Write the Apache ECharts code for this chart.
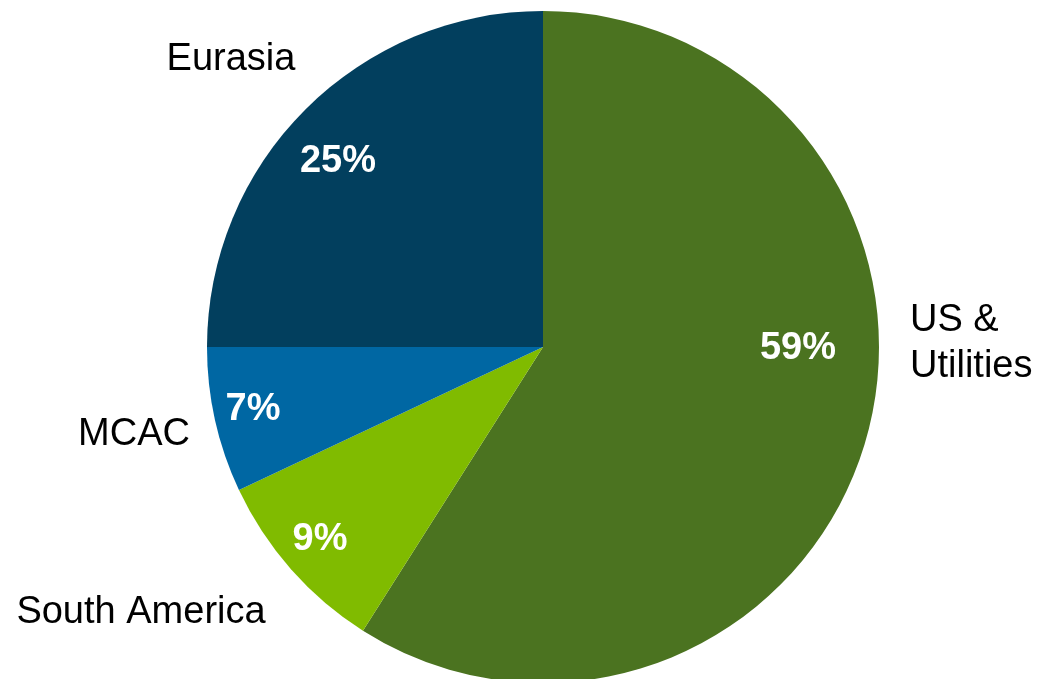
<!DOCTYPE html>
<html>
<head>
<meta charset="utf-8">
<title>Segment share</title>
<script src="https://cdn.jsdelivr.net/npm/echarts@6/dist/echarts.min.js"></script>
<style>
  html, body { margin: 0; padding: 0; background: #ffffff; }
  #chart { width: 1041px; height: 679px; }
</style>
</head>
<body>
<div id="chart"></div>
<script>
// Segment names and their share of the total (percent), clockwise from 12 o'clock
const segments = ['US &\nUtilities', 'South America', 'MCAC', 'Eurasia'];
const shares = [59, 9, 7, 25];
const colors = ['#4b7320', '#80bb00', '#0067a3', '#023f5e'];

// Where each percentage label and each segment name sits
const valueLabelPos = [[798, 349], [320, 540], [253, 410], [338, 162]];
const nameLabelPos = [[910, 344, 'left'], [141, 613, 'center'], [134, 435, 'center'], [231, 60, 'center']];

const center = [543, 347];
const radius = 336;
const font = '"Liberation Sans", Arial, Helvetica, sans-serif';

const pieData = segments.map((name, i) => ({
  name: name,
  value: shares[i],
  itemStyle: { color: colors[i] }
}));

const chart = echarts.init(document.getElementById('chart'), null, { renderer: 'canvas' });
chart.setOption({
  animation: false,
  backgroundColor: '#ffffff',
  series: [
    {
      // Slices with the percentage written on them
      type: 'pie',
      center: center,
      radius: radius,
      startAngle: 90,
      clockwise: true,
      silent: true,
      data: pieData,
      itemStyle: { borderWidth: 0 },
      label: {
        show: true,
        position: 'inside',
        formatter: p => p.value + '%',
        color: '#ffffff',
        fontFamily: font,
        fontWeight: 'bold',
        fontSize: 38,
        overflow: 'none'
      },
      labelLine: { show: false },
      labelLayout: p => ({
        x: valueLabelPos[p.dataIndex][0],
        y: valueLabelPos[p.dataIndex][1],
        align: 'center',
        verticalAlign: 'middle'
      })
    },
    {
      // Same slices, invisible, carrying the segment names outside the pie
      type: 'pie',
      center: center,
      radius: radius,
      startAngle: 90,
      clockwise: true,
      silent: true,
      z: 1,
      data: segments.map((name, i) => ({
        name: name,
        value: shares[i],
        itemStyle: { color: 'rgba(0,0,0,0)' }
      })),
      label: {
        show: true,
        position: 'outside',
        formatter: p => p.name,
        color: '#000000',
        fontFamily: font,
        fontSize: 38,
        lineHeight: 46,
        overflow: 'none',
        width: 400
      },
      labelLine: { show: false },
      labelLayout: p => ({
        x: nameLabelPos[p.dataIndex][0],
        y: nameLabelPos[p.dataIndex][1],
        align: nameLabelPos[p.dataIndex][2],
        verticalAlign: 'middle'
      })
    }
  ]
});
</script>
</body>
</html>
